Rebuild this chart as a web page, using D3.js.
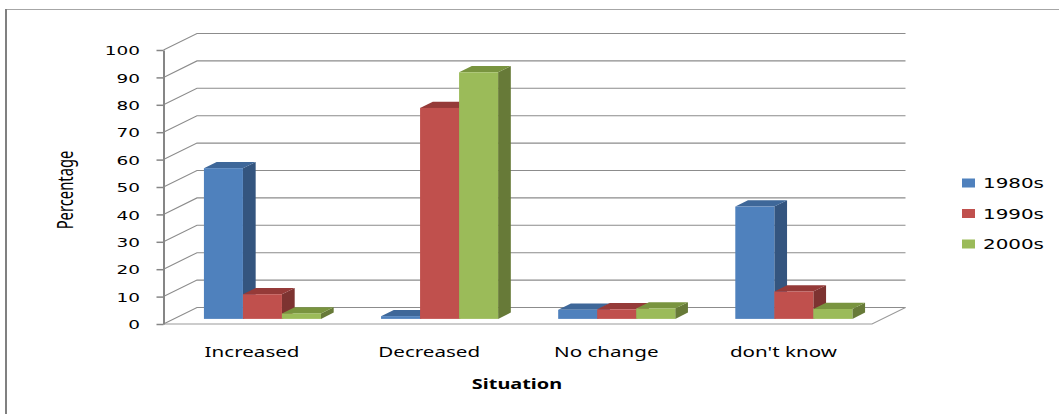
<!DOCTYPE html>
<html><head><meta charset="utf-8">
<script src="https://cdn.jsdelivr.net/npm/d3@7"></script>
<style>body{margin:0;background:#fff}svg{display:block}</style>
</head><body>
<svg id="c" width="1059" height="414"></svg>
<script>
const categories = ["Increased", "Decreased", "No change", "don't know"];
const seriesNames = ["1980s", "1990s", "2000s"];
const v1980s = [55, 1, 3.3, 41];
const v1990s = [9, 77, 3.5, 10];
const v2000s = [2, 90, 3.8, 3.6];
const yTicks = [0, 10, 20, 30, 40, 50, 60, 70, 80, 90, 100];
const yTitle = "Percentage";
const xTitle = "Situation";

const frontColors = ["#4F81BD", "#C0504D", "#9BBB59"];
const sideColors = ["#34557f", "#7d3331", "#677a38"];
const topColors = ["#3e6799", "#953a38", "#79943f"];
const seriesValues = [v1980s, v1990s, v2000s];

const svg = d3.select("#c");
svg.append("rect").attr("width", 1059).attr("height", 414).attr("fill", "#fff");

// frame
svg.append("line").attr("x1", 6).attr("x2", 1059).attr("y1", 9.5).attr("y2", 9.5)
  .attr("stroke", "#a6a6a6").attr("stroke-width", 1.2);
svg.append("line").attr("x1", 6).attr("x2", 6).attr("y1", 9).attr("y2", 414)
  .attr("stroke", "#808080").attr("stroke-width", 2);

const L = 163.5, R = 872, B = 324, T = 50, DX = 33.5, DY = -16.5;
const SX = 1.42; // horizontal text stretch

const x = d3.scaleBand().domain(categories).range([L, R]);
const xs = d3.scaleBand().domain(seriesNames).range([0, x.bandwidth()]).paddingOuter(0.77);
const y = d3.scaleLinear().domain([0, 100]).range([B, T]);

// gridlines (side wall + back wall)
const grid = svg.append("g").attr("fill", "none");
grid.selectAll("path.g").data(yTicks).join("path").attr("class", "g")
  .attr("d", t => `M${L},${y(t)} L${L + DX},${y(t) + DY} H${R + DX}`)
  .attr("stroke", "#8c8c8c").attr("stroke-width", 1.1);
// floor front + right
grid.append("path").attr("d", `M${L},${B} H${R} L${R + DX},${B + DY}`)
  .attr("stroke", "#9a9a9a").attr("stroke-width", 1.1);

// axis
const ax = svg.append("g").attr("transform", `translate(${L},0)`)
  .call(d3.axisLeft(y).tickValues(yTicks).tickSize(7).tickSizeOuter(0).tickPadding(0));
ax.select(".domain").attr("stroke", "#868686").attr("stroke-width", 2);
ax.selectAll(".tick line").attr("stroke", "#868686").attr("stroke-width", 1.5);
ax.selectAll(".tick text")
  .attr("x", -23.5 / SX).attr("dy", "0.36em")
  .attr("transform", `scale(${SX},1)`)
  .attr("font-family", "DejaVu Sans").attr("font-size", 13).attr("fill", "#000")
  .attr("text-anchor", "end");

// bars
const f1 = 0.31, fd = 0.38;
const ox = DX * f1, oy = DY * f1, dx = DX * fd, dy = DY * fd;
const barsG = svg.append("g");
const barData = [];
categories.forEach((c, ci) => seriesNames.forEach((s, si) => barData.push({ c, s, si, v: seriesValues[si][ci] })));
const bar = barsG.selectAll("g.bar").data(barData).join("g").attr("class", "bar");
const bx0 = d => x(d.c) + xs(d.s) + ox;
const bx1 = d => bx0(d) + xs.bandwidth();
const by0 = d => y(0) + oy;
const by1 = d => y(d.v) + oy;
bar.append("path").attr("fill", d => sideColors[d.si])
  .attr("d", d => `M${bx1(d)},${by0(d)} L${bx1(d) + dx},${by0(d) + dy} L${bx1(d) + dx},${by1(d) + dy} L${bx1(d)},${by1(d)} Z`);
bar.append("path").attr("fill", d => topColors[d.si])
  .attr("d", d => `M${bx0(d)},${by1(d)} L${bx0(d) + dx},${by1(d) + dy} L${bx1(d) + dx},${by1(d) + dy} L${bx1(d)},${by1(d)} Z`);
bar.append("rect").attr("fill", d => frontColors[d.si])
  .attr("x", bx0).attr("y", by1).attr("width", xs.bandwidth()).attr("height", d => by0(d) - by1(d));

// category labels
svg.append("g").selectAll("text").data(categories).join("text")
  .attr("transform", d => `translate(${x(d) + x.bandwidth() / 2},357) scale(${SX},1)`)
  .attr("text-anchor", "middle").attr("font-family", "Noto Sans").attr("font-size", 14.5)
  .attr("fill", "#000").text(d => d);

// axis titles
svg.append("text").attr("transform", `translate(517,389) scale(${SX},1)`)
  .attr("text-anchor", "middle").attr("font-family", "Noto Sans").attr("font-weight", "bold")
  .attr("font-size", 14).attr("fill", "#000").text(xTitle);
svg.append("text").attr("transform", `translate(73,190) scale(${SX},1) rotate(-90)`)
  .attr("text-anchor", "middle").attr("font-family", "Noto Sans")
  .attr("font-size", 14.8).attr("fill", "#000").text(yTitle);

// legend
const lg = svg.append("g").selectAll("g").data(seriesNames).join("g")
  .attr("transform", (d, i) => `translate(962,${183 + i * 30.5})`);
lg.append("rect").attr("x", 0).attr("y", -4.5).attr("width", 13).attr("height", 9)
  .attr("fill", (d, i) => frontColors[i]);
lg.append("text").attr("transform", `translate(21,0) scale(${SX},1)`).attr("dy", "0.36em")
  .attr("font-family", "DejaVu Sans").attr("font-size", 14).attr("fill", "#000").text(d => d);
</script>
</body></html>
